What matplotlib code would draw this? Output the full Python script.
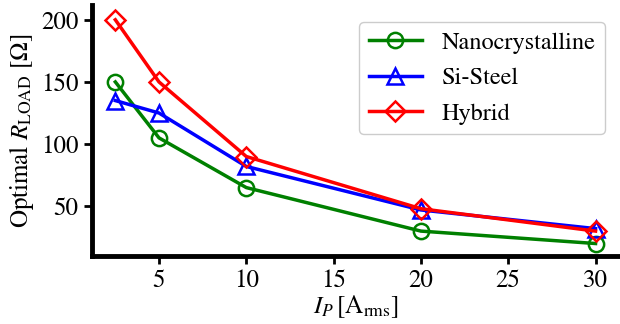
import matplotlib
matplotlib.use('Agg')
import matplotlib.pyplot as plt

# ── DATA ──
current = [2.5, 5, 10, 20, 30]
nano = [150, 105, 65, 30, 20]
si_steel = [135, 125, 82, 47, 32]
hybrid = [200, 150, 90, 48, 30]

plt.rcParams['font.family'] = 'STIXGeneral'
plt.rcParams['mathtext.fontset'] = 'stix'
plt.rcParams['font.size'] = 18

fig = plt.figure(figsize=(6.2, 3.24), dpi=100)
ax = fig.add_axes([0.148, 0.21, 0.852, 0.775])

ax.plot(current, nano, color='green', marker='o', lw=2.5, ms=11, mfc='none', mew=1.8,
        label='Nanocrystalline')
ax.plot(current, si_steel, color='blue', marker='^', lw=2.5, ms=11, mfc='none', mew=1.8,
        label='Si-Steel')
ax.plot(current, hybrid, color='red', marker='D', lw=2.5, ms=10, mfc='none', mew=1.8,
        label='Hybrid')

ax.set_xlim(1.15, 31.4)
ax.set_ylim(10, 212)
ax.set_xticks([5, 10, 15, 20, 25, 30])
ax.set_yticks([50, 100, 150, 200])

ax.set_xlabel(r'$I_P\,[\mathrm{A_{rms}}]$', labelpad=0)
ax.set_ylabel(r'Optimal $R_{\mathrm{LOAD}}$ $[\mathit{\Omega}]$', labelpad=4)

for side in ['top', 'right']:
    ax.spines[side].set_visible(False)
for side in ['left', 'bottom']:
    ax.spines[side].set_linewidth(3.5)
ax.tick_params(width=2, length=6)

ax.legend(loc='upper right', framealpha=1, edgecolor='#cccccc', fontsize=17.5,
          handlelength=2.2, borderpad=0.4, labelspacing=0.55,
          bbox_to_anchor=(0.995, 0.98))

fig.savefig('out.png', dpi=100)
